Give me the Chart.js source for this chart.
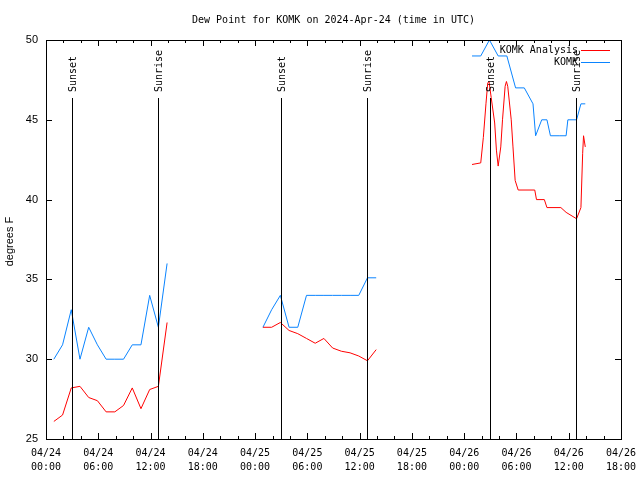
<!DOCTYPE html>
<html>
<head>
<meta charset="utf-8">
<script src="https://cdn.jsdelivr.net/npm/chart.js@4.4.1/dist/chart.umd.min.js"></script>
<style>
  html, body { margin: 0; padding: 0; background: #fff; }
  #wrap { width: 640px; height: 480px; }
</style>
</head>
<body>
<div id="wrap"><canvas id="chart" width="640" height="480"></canvas></div>
<script>
// hours since 04/24 00:00 UTC; null = no data
const obsHours = [0.9, 1.9, 2.9, 3.9, 4.9, 5.9, 6.9, 7.9, 8.9, 9.9, 10.9, 11.9, 12.9, 13.9,
  19,
  24.9, 25.9, 26.9, 27.9, 28.9, 29.9, 30.9, 31.9, 32.9, 33.9, 34.9, 35.9, 36.9, 37.9,
  43,
  48.9, 49.9, 50.9, 51.9, 52.9, 53.9, 54.9, 55.9, 56.2, 56.9, 57.5, 57.9, 58.9, 59.7, 59.9, 60.9, 61.4, 61.9];
const obsDew = [30, 30.9, 33.1, 30, 32, 30.9, 30, 30, 30, 30.9, 30.9, 34, 32, 36,
  null,
  32, 33.1, 34, 32, 32, 34, 34, 34, 34, 34, 34, 34, 35.1, 35.1,
  null,
  49, 49, 50, 49, 49, 47, 47, 46, 44, 45, 45, 44, 44, 44, 45, 45, 46, 46];

const anaHours = [0.9, 1.9, 2.9, 3.9, 4.9, 5.9, 6.9, 7.9, 8.9, 9.9, 10.9, 11.9, 12.9, 13.9,
  19,
  24.9, 25.9, 26.9, 27.9, 28.9, 29.9, 30.9, 31.9, 32.9, 33.9, 34.9, 35.9, 36.9, 37.9,
  43,
  48.9, 49.9, 50.2, 50.5, 50.7, 50.85, 51.1, 51.5, 51.7, 51.9, 52.2, 52.4, 52.7, 52.85, 53.0,
  53.4, 53.6, 53.85, 54.2, 56.1, 56.3, 57.2, 57.5, 59.1, 59.7, 60.9, 61.4, 61.6, 61.7, 61.9];
const anaDew = [26.1, 26.5, 28.2, 28.3, 27.6, 27.4, 26.7, 26.7, 27.1, 28.2, 26.9, 28.1, 28.3, 32.3,
  null,
  32.0, 32.0, 32.3, 31.8, 31.6, 31.3, 31.0, 31.3, 30.7, 30.5, 30.4, 30.2, 29.9, 30.6,
  null,
  42.2, 42.3, 43.9, 46.0, 47.3, 47.4, 46.4, 44.8, 43.1, 42.1, 43.3, 45.0, 47.1, 47.4, 47.1,
  45.0, 43.3, 41.2, 40.6, 40.6, 40.0, 40.0, 39.5, 39.5, 39.2, 38.8, 39.5, 42.9, 44.0, 43.3];

const sunHours = [2.93, 12.82, 26.95, 36.85, 50.97, 60.88];
const sunLabels = ['Sunset', 'Sunrise', 'Sunset', 'Sunrise', 'Sunset', 'Sunrise'];

const tickDays = ['04/24', '04/24', '04/24', '04/24', '04/25', '04/25', '04/25', '04/25', '04/26', '04/26', '04/26', '04/26'];
const tickTimes = ['00:00', '06:00', '12:00', '18:00', '00:00', '06:00', '12:00', '18:00', '00:00', '06:00', '12:00', '18:00'];

const MONO = '"DejaVu Sans Mono", monospace';
const SANS = '"Liberation Sans", Arial, sans-serif';
const RED = '#ff0000';
const BLUE = '#0a84ff';

const toPoints = (xs, ys) => xs.map((h, i) => ({ x: h, y: ys[i] }));

// gnuplot-ish decorations: frame, inward ticks, sun lines, legend, titles
const gnuplotDeco = {
  id: 'gnuplotDeco',
  afterDatasetsDraw(chart) {
    const { ctx, chartArea: a, scales: { x, y } } = chart;
    ctx.save();
    ctx.strokeStyle = '#000';
    ctx.lineWidth = 1;

    ctx.beginPath();
    for (let h = 0; h <= 66; h += 2) {
      const px = Math.round(x.getPixelForValue(h)) + 0.5;
      const len = h % 6 === 0 ? 6 : 3;
      ctx.moveTo(px, a.bottom); ctx.lineTo(px, a.bottom - len);
      ctx.moveTo(px, a.top); ctx.lineTo(px, a.top + len);
    }
    for (let v = 25; v <= 50; v += 5) {
      const py = Math.round(y.getPixelForValue(v)) + 0.5;
      ctx.moveTo(a.left, py); ctx.lineTo(a.left + 6, py);
      ctx.moveTo(a.right, py); ctx.lineTo(a.right - 6, py);
    }
    ctx.stroke();

    ctx.strokeRect(Math.round(a.left) + 0.5, Math.round(a.top) + 0.5,
      Math.round(a.right - a.left), Math.round(a.bottom - a.top));

    // sunset / sunrise
    ctx.fillStyle = '#000';
    ctx.font = '10px ' + MONO;
    sunHours.forEach((h, i) => {
      const px = Math.round(x.getPixelForValue(h)) + 0.5;
      ctx.beginPath();
      ctx.moveTo(px, 98);
      ctx.lineTo(px, a.bottom);
      ctx.stroke();
      ctx.save();
      ctx.translate(px + 1, 92);
      ctx.rotate(-Math.PI / 2);
      ctx.textAlign = 'left';
      ctx.textBaseline = 'middle';
      ctx.fillText(sunLabels[i], 0, 0);
      ctx.restore();
    });

    // legend
    ctx.textAlign = 'right';
    ctx.textBaseline = 'middle';
    [['KOMK Analysis', RED, 50], ['KOMK', BLUE, 62]].forEach(([txt, col, ly]) => {
      ctx.fillStyle = '#000';
      ctx.fillText(txt, 578, ly);
      ctx.strokeStyle = col;
      ctx.beginPath();
      ctx.moveTo(581, ly + 0.5);
      ctx.lineTo(610, ly + 0.5);
      ctx.stroke();
    });

    // title
    ctx.fillStyle = '#000';
    ctx.textAlign = 'center';
    ctx.fillText('Dew Point for KOMK on 2024-Apr-24 (time in UTC)', (a.left + a.right) / 2, 20);

    // y axis title
    ctx.font = '11px ' + SANS;
    ctx.save();
    ctx.translate(10, (a.top + a.bottom) / 2 + 2);
    ctx.rotate(-Math.PI / 2);
    ctx.textAlign = 'center';
    ctx.textBaseline = 'middle';
    ctx.fillText('degrees F', 0, 0);
    ctx.restore();

    ctx.restore();
  }
};

new Chart(document.getElementById('chart').getContext('2d'), {
  type: 'line',
  data: {
    datasets: [
      { label: 'KOMK Analysis', data: toPoints(anaHours, anaDew), borderColor: RED, borderWidth: 1, pointRadius: 0, tension: 0, spanGaps: false },
      { label: 'KOMK', data: toPoints(obsHours, obsDew), borderColor: BLUE, borderWidth: 1, pointRadius: 0, tension: 0, spanGaps: false }
    ]
  },
  options: {
    responsive: false,
    animation: false,
    devicePixelRatio: 1,
    layout: { padding: { top: 40, right: 19, left: 0, bottom: 0 } },
    plugins: { legend: { display: false }, tooltip: { enabled: false } },
    scales: {
      x: {
        type: 'linear',
        min: 0,
        max: 66,
        grid: { display: false, drawTicks: false },
        border: { display: false },
        ticks: {
          stepSize: 6,
          autoSkip: false,
          maxRotation: 0,
          padding: 7,
          color: '#000',
          font: { family: MONO, size: 10, lineHeight: 1.4 },
          callback: (v) => [tickDays[v / 6], tickTimes[v / 6]]
        },
        afterFit: (s) => { s.height = 41; s.paddingLeft = 0; s.paddingRight = 0; }
      },
      y: {
        min: 25,
        max: 50,
        grid: { display: false, drawTicks: false },
        border: { display: false },
        ticks: {
          stepSize: 5,
          padding: 8,
          color: '#000',
          font: { family: SANS, size: 11 }
        },
        afterFit: (s) => { s.width = 46; s.paddingTop = 0; s.paddingBottom = 0; }
      }
    }
  },
  plugins: [gnuplotDeco]
});
</script>
</body>
</html>
